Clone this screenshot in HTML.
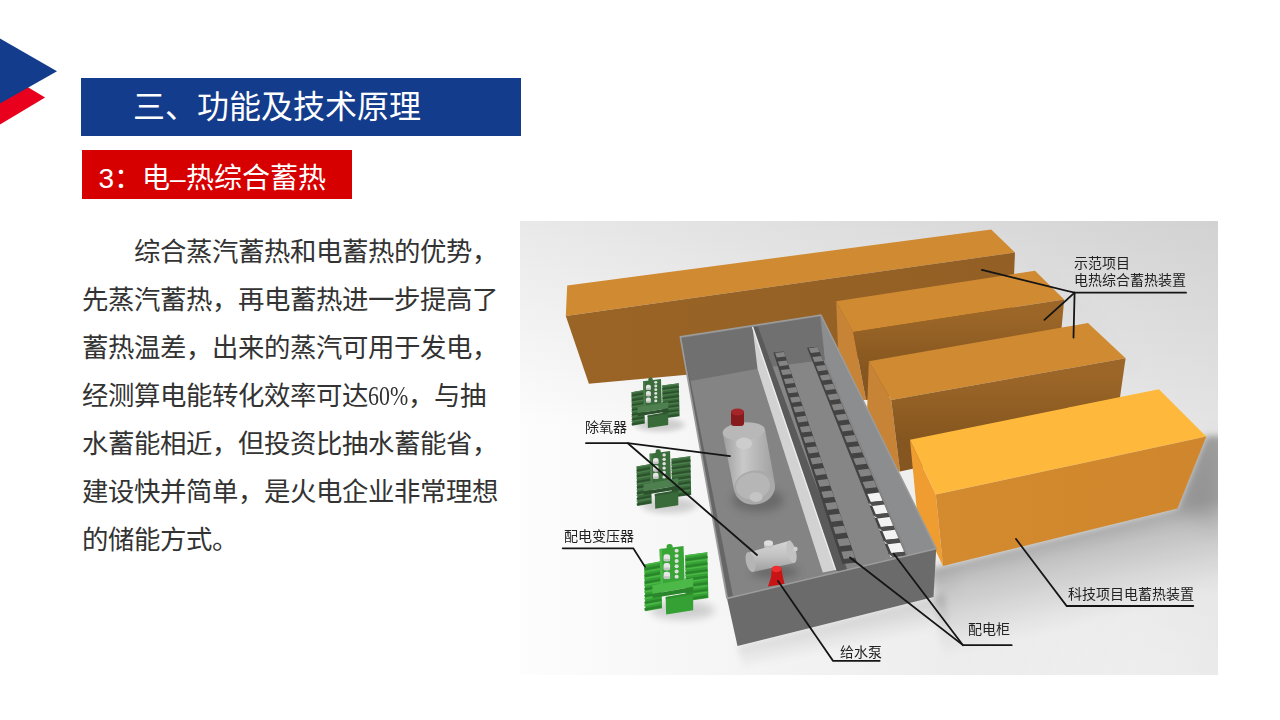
<!DOCTYPE html>
<html lang="zh-CN"><head><meta charset="utf-8">
<style>
html,body{margin:0;padding:0;}
body{width:1280px;height:720px;background:#fff;position:relative;overflow:hidden;font-family:"Liberation Serif",serif;}
.abs{position:absolute;}
#tri{left:0;top:0;}
#bar1{left:81px;top:78px;width:440px;height:58px;background:#143c8c;}
#bar1 span{position:absolute;left:52px;top:10px;font-size:32px;line-height:38px;color:#fff;white-space:nowrap;}
#bar2{left:82px;top:150px;width:270px;height:49px;background:#d70000;}
#bar2 span{position:absolute;left:16.5px;top:13px;font-size:28px;line-height:32px;color:#fff;white-space:nowrap;font-family:"Liberation Sans",sans-serif;}
#body{left:82px;top:229.2px;width:440px;font-size:26.4px;line-height:47.9px;color:#333;}
#body div{white-space:nowrap;height:47.9px;}
#pic{left:520px;top:221px;}
.lbl{font-family:"Liberation Sans",sans-serif;font-size:14px;fill:#222;}
</style></head><body>
<svg id="tri" class="abs" width="80" height="140" viewBox="0 0 80 140">
  <polygon points="0,70.5 45.1,97.4 0,124.4" fill="#e8001c"/>
  <polygon points="0,38.6 57,71.25 0,103.6" fill="#143c8c"/>
</svg>
<div id="bar1" class="abs"><span>三、功能及技术原理</span></div>
<div id="bar2" class="abs"><span>3：电–热综合蓄热</span></div>
<div id="body" class="abs">
<div>&#12288;&#12288;综合蒸汽蓄热和电蓄热的优势，</div>
<div>先蒸汽蓄热，再电蓄热进一步提高了</div>
<div>蓄热温差，出来的蒸汽可用于发电，</div>
<div>经测算电能转化效率可达<span style="display:inline-block;width:39.6px;white-space:nowrap"><span style="display:inline-block;transform:scaleX(0.83);transform-origin:0 0">60%</span></span>，与抽</div>
<div>水蓄能相近，但投资比抽水蓄能省，</div>
<div>建设快并简单，是火电企业非常理想</div>
<div>的储能方式。</div>
</div>
<svg id="pic" class="abs" width="698" height="454" viewBox="520 221 698 454">
<defs>
  <linearGradient id="bg" gradientUnits="userSpaceOnUse" x1="520" y1="0" x2="1218" y2="0">
    <stop offset="0" stop-color="#fdfdfd"/>
    <stop offset="0.3" stop-color="#f5f5f5"/>
    <stop offset="1" stop-color="#e4e4e4"/>
  </linearGradient>
  <linearGradient id="topdark" gradientUnits="userSpaceOnUse" x1="0" y1="221" x2="0" y2="430">
    <stop offset="0" stop-color="#000" stop-opacity="0.08"/>
    <stop offset="1" stop-color="#000" stop-opacity="0"/>
  </linearGradient>
  <radialGradient id="hl" gradientUnits="userSpaceOnUse" cx="1150" cy="700" r="200">
    <stop offset="0" stop-color="#ffffff" stop-opacity="0.35"/>
    <stop offset="1" stop-color="#ffffff" stop-opacity="0"/>
  </radialGradient>
  <filter id="blur2" x="-20%" y="-20%" width="140%" height="140%"><feGaussianBlur stdDeviation="3"/></filter>
  <filter id="blur4" x="-50%" y="-50%" width="200%" height="200%"><feGaussianBlur stdDeviation="4"/></filter>
  <filter id="blur8" x="-50%" y="-50%" width="200%" height="200%"><feGaussianBlur stdDeviation="10"/></filter>
  <linearGradient id="b4front" gradientUnits="userSpaceOnUse" x1="940" y1="0" x2="1200" y2="0">
    <stop offset="0" stop-color="#d48b2f"/><stop offset="1" stop-color="#cf862c"/>
  </linearGradient>
  <linearGradient id="b1front" gradientUnits="userSpaceOnUse" x1="570" y1="0" x2="1015" y2="0">
    <stop offset="0" stop-color="#9a6426"/><stop offset="1" stop-color="#935f24"/>
  </linearGradient>
  <linearGradient id="b2front" gradientUnits="userSpaceOnUse" x1="0" y1="315" x2="0" y2="370">
    <stop offset="0" stop-color="#9c6628"/><stop offset="1" stop-color="#85561f"/>
  </linearGradient>
  <linearGradient id="b3front" gradientUnits="userSpaceOnUse" x1="0" y1="375" x2="0" y2="440">
    <stop offset="0" stop-color="#9c6628"/><stop offset="1" stop-color="#85561f"/>
  </linearGradient>
  <linearGradient id="rwall" gradientUnits="userSpaceOnUse" x1="0" y1="315" x2="0" y2="550">
    <stop offset="0" stop-color="#8f9090"/><stop offset="1" stop-color="#8a8a8a"/>
  </linearGradient>
  <linearGradient id="tank" gradientUnits="userSpaceOnUse" x1="722" y1="0" x2="775" y2="0">
    <stop offset="0" stop-color="#9c9c9c"/><stop offset="0.4" stop-color="#c9c9c9"/><stop offset="1" stop-color="#a0a0a0"/>
  </linearGradient>
  <linearGradient id="stank" gradientUnits="userSpaceOnUse" x1="0" y1="540" x2="0" y2="572">
    <stop offset="0" stop-color="#d6d6d6"/><stop offset="0.5" stop-color="#c2c2c2"/><stop offset="1" stop-color="#9e9e9e"/>
  </linearGradient>
</defs>
<rect x="520" y="221" width="698" height="454" fill="url(#bg)"/>
<rect x="520" y="221" width="698" height="454" fill="url(#topdark)"/>
<rect x="520" y="221" width="698" height="454" fill="url(#hl)"/>
<linearGradient id="sh4" gradientUnits="userSpaceOnUse" x1="1060" y1="537" x2="1081.9" y2="624.4">
  <stop offset="0" stop-color="#000" stop-opacity="0.28"/><stop offset="0.22" stop-color="#000" stop-opacity="0.17"/><stop offset="0.66" stop-color="#000" stop-opacity="0.07"/><stop offset="1" stop-color="#000" stop-opacity="0"/></linearGradient>
<linearGradient id="shp" gradientUnits="userSpaceOnUse" x1="835" y1="621" x2="841" y2="650">
  <stop offset="0" stop-color="#000" stop-opacity="0.12"/><stop offset="1" stop-color="#000" stop-opacity="0"/></linearGradient>
<g filter="url(#blur2)">
<polygon points="930.0,569.0 1177.0,508.0 1206.0,436.0 1230.0,436.0 1230.0,640.0 950.0,700.0" fill="url(#sh4)"/>
<polygon points="737.5,646.0 933.5,597.0 945.0,594.0 950.0,625.0 745.0,675.0" fill="url(#shp)"/>
</g>
<g filter="url(#blur8)" fill="#000">
<polygon points="1177.0,508.0 1206.0,436.0 1218.0,440.0 1218.0,530.0" opacity="0.10"/>
<polygon points="936.0,549.0 945.0,566.0 955.0,585.0 936.0,597.0" opacity="0.05"/>
<polygon points="1015.0,252.0 1064.0,300.0 1125.0,358.0 1140.0,380.0 1100.0,330.0" opacity="0.08"/>
</g>
<polygon points="567.2,285.6 991.2,229.5 1015.0,252.5 565.8,316.0" fill="#cf8a32"/>
<polygon points="565.8,316.0 1015.0,252.5 1011.0,345.0 588.9,383.7" fill="url(#b1front)"/>
<polygon points="836.2,301.2 853.1,331.9 866.0,400.0 840.0,400.0" fill="#c88436"/>
<polygon points="836.2,301.2 1035.0,270.8 1064.2,299.6 853.1,331.9" fill="#cf8a32"/>
<polygon points="853.1,331.9 1064.2,299.6 1058.0,366.0 866.0,400.0" fill="url(#b2front)"/>
<polygon points="868.8,361.2 891.2,400.0 900.0,471.5 865.0,471.5" fill="#c88436"/>
<polygon points="868.8,361.2 1088.0,323.0 1125.6,358.3 891.2,400.0" fill="#cf8a32"/>
<polygon points="891.2,400.0 1125.6,358.3 1116.0,425.0 900.0,471.5" fill="url(#b3front)"/>
<polygon points="910.0,439.7 935.8,494.6 943.0,566.0 917.0,512.0" fill="#ef9d31"/>
<polygon points="910.0,439.7 1158.9,389.2 1206.3,436.5 935.8,494.6" fill="#feb93c"/>
<polygon points="935.8,494.6 1206.3,436.5 1177.4,508.4 943.0,566.0" fill="url(#b4front)"/>
<polygon points="680.2,336.7 821.0,315.0 936.2,548.8 727.0,598.5" fill="#848484"/>
<polygon points="681.5,338.0 820.0,316.5 825.0,360.0 757.5,368.8 690.5,381.0" fill="#707070"/>
<polygon points="681.5,338.0 690.5,381.0 733.0,596.0 728.0,597.0" fill="#666666"/>
<polygon points="757.5,368.8 825.0,360.0 908.0,555.0 822.8,572.5" fill="#868686"/>
<polygon points="752.5,326.7 758.0,327.0 850.0,577.0 835.6,570.0" fill="#5a5a5a"/>
<polygon points="752.5,326.7 835.6,570.0 822.8,572.5 757.5,368.8" fill="#d2d2d2"/>
<polyline points="752.5,326.7 835.6,570.0" fill="none" stroke="#ececec" stroke-width="1.4"/>
<polygon points="821.0,315.0 936.2,548.8 908.0,555.0 825.0,360.0" fill="#8c8d8f"/>
<ellipse cx="758" cy="500" rx="26" ry="12" fill="#3a3a3a" opacity="0.35" filter="url(#blur4)"/>
<polygon points="773.3,352.5 783.8,351.5 857.0,562.5 842.5,564.0" fill="#434343"/><polygon points="775.1,353.0 783.8,351.9 785.5,356.5 776.8,357.6" fill="#848484"/><polygon points="777.9,361.5 786.7,360.4 788.4,365.1 779.6,366.2" fill="#848484"/><polygon points="780.8,370.1 789.7,369.1 791.5,373.9 782.6,375.0" fill="#848484"/><polygon points="783.8,379.0 792.8,377.9 794.6,382.9 785.6,384.0" fill="#848484"/><polygon points="786.8,388.2 796.0,387.1 797.8,392.2 788.7,393.3" fill="#848484"/><polygon points="790.0,397.5 799.2,396.4 801.1,401.6 791.8,402.8" fill="#848484"/><polygon points="793.2,407.1 802.5,405.9 804.4,411.3 795.1,412.5" fill="#848484"/><polygon points="796.4,416.9 805.9,415.7 807.9,421.2 798.4,422.4" fill="#848484"/><polygon points="799.8,426.9 809.4,425.7 811.4,431.4 801.8,432.6" fill="#848484"/><polygon points="803.2,437.2 812.9,435.9 815.0,441.7 805.2,442.9" fill="#848484"/><polygon points="806.7,447.6 816.5,446.4 818.6,452.3 808.8,453.5" fill="#848484"/><polygon points="810.2,458.3 820.2,457.1 822.4,463.1 812.4,464.4" fill="#848484"/><polygon points="813.8,469.2 824.0,467.9 826.2,474.1 816.0,475.4" fill="#848484"/><polygon points="817.5,480.3 827.9,479.1 830.1,485.4 819.8,486.7" fill="#848484"/><polygon points="821.3,491.7 831.8,490.4 834.1,496.8 823.6,498.1" fill="#848484"/><polygon points="825.2,503.3 835.8,501.9 838.1,508.5 827.5,509.9" fill="#848484"/><polygon points="829.1,515.1 839.9,513.7 842.3,520.4 831.4,521.8" fill="#848484"/><polygon points="833.1,527.1 844.1,525.7 846.5,532.6 835.5,533.9" fill="#848484"/><polygon points="837.1,539.3 848.3,537.9 850.7,544.9 839.6,546.3" fill="#848484"/><polygon points="841.3,551.8 852.6,550.4 855.1,557.5 843.8,558.9" fill="#848484"/>
<polygon points="807.0,347.7 817.5,346.7 906.0,555.5 890.0,557.0" fill="#434343"/><polygon points="808.8,348.2 817.5,347.1 819.6,351.9 810.9,353.0" fill="#848484"/><polygon points="812.4,357.0 821.2,355.9 823.4,360.9 814.5,361.9" fill="#848484"/><polygon points="816.0,366.1 825.1,365.0 827.3,370.1 818.2,371.2" fill="#848484"/><polygon points="819.8,375.4 829.0,374.3 831.3,379.5 822.0,380.6" fill="#848484"/><polygon points="823.6,384.9 833.0,383.8 835.4,389.1 825.9,390.3" fill="#848484"/><polygon points="827.5,394.7 837.2,393.5 839.6,399.1 829.9,400.2" fill="#848484"/><polygon points="831.6,404.7 841.4,403.5 843.9,409.2 834.0,410.4" fill="#848484"/><polygon points="835.7,415.0 845.8,413.8 848.3,419.6 838.2,420.8" fill="#848484"/><polygon points="840.0,425.6 850.2,424.3 852.8,430.3 842.5,431.5" fill="#848484"/><polygon points="844.3,436.3 854.8,435.0 857.4,441.2 846.9,442.4" fill="#848484"/><polygon points="848.7,447.3 859.4,446.0 862.1,452.3 851.4,453.6" fill="#848484"/><polygon points="853.2,458.6 864.2,457.3 866.9,463.7 856.0,465.0" fill="#848484"/><polygon points="857.9,470.1 869.0,468.7 871.8,475.3 860.7,476.7" fill="#848484"/><polygon points="862.6,481.9 874.0,480.5 876.9,487.2 865.4,488.6" fill="#848484"/><polygon points="867.4,493.9 879.1,492.4 882.6,500.7 870.9,502.2" fill="#f3f3f3"/><polygon points="865.1,495.1 868.4,502.2 873.0,505.3 869.9,505.6" fill="#dedede"/><polygon points="867.4,502.2 882.6,500.7 883.9,504.2 872.3,505.6" fill="#4e4e4e"/><polygon points="872.3,506.1 884.3,504.6 887.8,513.1 875.9,514.6" fill="#f3f3f3"/><polygon points="869.9,507.4 873.3,514.6 878.0,517.8 874.9,518.1" fill="#dedede"/><polygon points="872.3,514.6 887.8,513.1 889.2,516.6 877.3,518.1" fill="#4e4e4e"/><polygon points="877.3,518.6 889.5,517.1 893.2,525.7 881.0,527.2" fill="#f3f3f3"/><polygon points="874.9,519.9 878.3,527.2 883.1,530.6 879.9,530.8" fill="#dedede"/><polygon points="877.3,527.2 893.2,525.7 894.6,529.3 882.4,530.8" fill="#4e4e4e"/><polygon points="882.4,531.3 894.9,529.8 898.6,538.6 886.1,540.1" fill="#f3f3f3"/><polygon points="879.9,532.7 883.4,540.1 888.3,543.5 885.1,543.8" fill="#dedede"/><polygon points="882.4,540.1 898.6,538.6 900.1,542.2 887.6,543.8" fill="#4e4e4e"/><polygon points="887.6,544.3 900.4,542.7 904.2,551.7 891.4,553.3" fill="#f3f3f3"/><polygon points="885.1,545.7 888.6,553.3 893.6,556.7 890.3,557.0" fill="#dedede"/><polygon points="887.6,553.3 904.2,551.7 905.7,555.4 892.9,557.0" fill="#4e4e4e"/>
<g>
<polygon points="722.6,433.0 765.0,429.7 775.0,484.0 734.3,491.0" fill="url(#tank)"/>
<ellipse cx="743.8" cy="431.4" rx="21.2" ry="9" fill="#b8b8b8" transform="rotate(-5 743.8 431.4)"/>
<ellipse cx="754.6" cy="487.5" rx="20.5" ry="17" fill="#a9a9a9" transform="rotate(-8 754.6 487.5)"/>
<ellipse cx="753" cy="486" rx="17" ry="13.5" fill="#b6b6b6" transform="rotate(-8 753 486)"/>
<ellipse cx="756" cy="497" rx="6.5" ry="5" fill="#c4c4c4"/>
<ellipse cx="744" cy="443.5" rx="8" ry="6" fill="#cdcdcd"/>
<rect x="731" y="410" width="13" height="16" rx="3" fill="#861a1c"/>
<ellipse cx="737.5" cy="412" rx="6.5" ry="3.5" fill="#a3262a"/>
</g>
<ellipse cx="775" cy="572" rx="24" ry="6" fill="#333" opacity="0.35" filter="url(#blur4)"/>
<polygon points="750.0,552.0 790.5,540.5 794.0,563.0 753.0,572.0" fill="url(#stank)"/>
<ellipse cx="750.5" cy="562" rx="4.5" ry="10.3" fill="#b5b5b5" transform="rotate(-14 750.5 562)"/>
<ellipse cx="791.5" cy="551.8" rx="4.5" ry="11.5" fill="#c2c2c2" transform="rotate(-14 791.5 551.8)"/>
<rect x="764" y="542" width="9" height="6" rx="2" fill="#c4c4c4"/>
<ellipse cx="768.5" cy="543" rx="4.5" ry="2.8" fill="#dedede"/>
<circle cx="795.5" cy="549" r="2.2" fill="#d0d0d0"/>
<polygon points="768,586.5 784.5,584 783,577 781,567 772,567.5 771,577.5" fill="#c81414"/>
<ellipse cx="776.5" cy="569" rx="5" ry="3.2" fill="#ee2e2e"/>
<polygon points="727.0,598.5 936.2,548.8 933.5,597.0 737.5,646.0" fill="#6b6b6b"/>
<polyline points="727.0,598.5 680.2,336.7 821.0,315.0 936.2,548.8 727.0,598.5" fill="none" stroke="#9c9c9c" stroke-width="1.5" stroke-linejoin="round"/>
<g transform="translate(631,384.1) scale(0.81,0.73)"><ellipse cx="36" cy="56" rx="30" ry="9" fill="#000" opacity="0.16" filter="url(#blur4)"/><polygon points="0.6,11 16.1,8 17.1,54 1.6,57" fill="#396a3a"/><polygon points="0.6,14.6 16.1,11.6 16.6,13.9 1.1,16.9" fill="#2c522d"/><polygon points="0.6,11.0 16.1,8.0 16.1,9.4 0.6,12.4" fill="#4e7f4f"/><polygon points="0.6,21.2 16.1,18.2 16.6,20.5 1.1,23.5" fill="#2c522d"/><polygon points="0.6,17.6 16.1,14.6 16.1,16.0 0.6,19.0" fill="#4e7f4f"/><polygon points="0.6,27.8 16.1,24.8 16.6,27.1 1.1,30.1" fill="#2c522d"/><polygon points="0.6,24.1 16.1,21.1 16.1,22.6 0.6,25.6" fill="#4e7f4f"/><polygon points="0.6,34.3 16.1,31.3 16.6,33.6 1.1,36.6" fill="#2c522d"/><polygon points="0.6,30.7 16.1,27.7 16.1,29.2 0.6,32.2" fill="#4e7f4f"/><polygon points="0.6,40.9 16.1,37.9 16.6,40.2 1.1,43.2" fill="#2c522d"/><polygon points="0.6,37.3 16.1,34.3 16.1,35.7 0.6,38.7" fill="#4e7f4f"/><polygon points="0.6,47.5 16.1,44.5 16.6,46.8 1.1,49.8" fill="#2c522d"/><polygon points="0.6,43.9 16.1,40.9 16.1,42.3 0.6,45.3" fill="#4e7f4f"/><polygon points="0.6,54.0 16.1,51.0 16.6,53.3 1.1,56.3" fill="#2c522d"/><polygon points="0.6,50.4 16.1,47.4 16.1,48.9 0.6,51.9" fill="#4e7f4f"/><polygon points="38.5,2 59.0,-1 60.0,44 39.5,47" fill="#396a3a"/><polygon points="38.5,5.5 59.0,2.5 59.5,4.8 39.0,7.8" fill="#2c522d"/><polygon points="38.5,2.0 59.0,-1.0 59.0,0.4 38.5,3.4" fill="#4e7f4f"/><polygon points="38.5,12.0 59.0,9.0 59.5,11.2 39.0,14.2" fill="#2c522d"/><polygon points="38.5,8.4 59.0,5.4 59.0,6.8 38.5,9.8" fill="#4e7f4f"/><polygon points="38.5,18.4 59.0,15.4 59.5,17.6 39.0,20.6" fill="#2c522d"/><polygon points="38.5,14.9 59.0,11.9 59.0,13.3 38.5,16.3" fill="#4e7f4f"/><polygon points="38.5,24.8 59.0,21.8 59.5,24.1 39.0,27.1" fill="#2c522d"/><polygon points="38.5,21.3 59.0,18.3 59.0,19.7 38.5,22.7" fill="#4e7f4f"/><polygon points="38.5,31.2 59.0,28.2 59.5,30.5 39.0,33.5" fill="#2c522d"/><polygon points="38.5,27.7 59.0,24.7 59.0,26.1 38.5,29.1" fill="#4e7f4f"/><polygon points="38.5,37.7 59.0,34.7 59.5,36.9 39.0,39.9" fill="#2c522d"/><polygon points="38.5,34.1 59.0,31.1 59.0,32.6 38.5,35.6" fill="#4e7f4f"/><polygon points="38.5,44.1 59.0,41.1 59.5,43.4 39.0,46.4" fill="#2c522d"/><polygon points="38.5,40.6 59.0,37.6 59.0,39.0 38.5,42.0" fill="#4e7f4f"/><polygon points="14.8,-4 37,-7 38,28 15.8,31" fill="#3b6d3c"/><polygon points="14.8,-4 17,-4.3 18,30.7 15.8,31" fill="#4e7f4f"/><rect x="21.3" y="-9" width="5.6" height="6" rx="2.5" fill="#3b6d3c"/><rect x="18.5" y="1.0" width="6" height="7" rx="2.2" fill="#e6e6e6"/><rect x="18.5" y="5.5" width="6" height="2.5" rx="1" fill="#c4c4c4"/><rect x="18.5" y="9.6" width="6" height="7" rx="2.2" fill="#e6e6e6"/><rect x="18.5" y="14.1" width="6" height="2.5" rx="1" fill="#c4c4c4"/><rect x="18.5" y="18.2" width="6" height="7" rx="2.2" fill="#e6e6e6"/><rect x="18.5" y="22.7" width="6" height="2.5" rx="1" fill="#c4c4c4"/><circle cx="30.6" cy="-2.5" r="1.9" fill="#e0e0e0"/><circle cx="30.6" cy="2.6" r="1.9" fill="#e0e0e0"/><circle cx="30.6" cy="7.7" r="1.9" fill="#e0e0e0"/><circle cx="30.6" cy="12.8" r="1.9" fill="#e0e0e0"/><circle cx="30.6" cy="17.9" r="1.9" fill="#e0e0e0"/><circle cx="30.6" cy="23.0" r="1.9" fill="#e0e0e0"/><polygon points="8.1,31.5 45.9,24.4 46,33 8.3,40" fill="#4e7f4f"/><polygon points="8.3,40 46,33 46,37.5 8.4,44" fill="#2c522d"/><polygon points="20.4,43 45.9,38.3 45.9,56 20.9,60" fill="#396a3a"/><polygon points="20.4,43 45.9,38.3 45.9,40.5 20.4,45.2" fill="#2c522d" opacity="0.6"/></g>
<g transform="translate(636,457.1) scale(0.92,0.86)"><ellipse cx="36" cy="56" rx="30" ry="9" fill="#000" opacity="0.16" filter="url(#blur4)"/><polygon points="0.6,11 16.1,8 17.1,54 1.6,57" fill="#396a3a"/><polygon points="0.6,14.6 16.1,11.6 16.6,13.9 1.1,16.9" fill="#2c522d"/><polygon points="0.6,11.0 16.1,8.0 16.1,9.4 0.6,12.4" fill="#4e7f4f"/><polygon points="0.6,21.2 16.1,18.2 16.6,20.5 1.1,23.5" fill="#2c522d"/><polygon points="0.6,17.6 16.1,14.6 16.1,16.0 0.6,19.0" fill="#4e7f4f"/><polygon points="0.6,27.8 16.1,24.8 16.6,27.1 1.1,30.1" fill="#2c522d"/><polygon points="0.6,24.1 16.1,21.1 16.1,22.6 0.6,25.6" fill="#4e7f4f"/><polygon points="0.6,34.3 16.1,31.3 16.6,33.6 1.1,36.6" fill="#2c522d"/><polygon points="0.6,30.7 16.1,27.7 16.1,29.2 0.6,32.2" fill="#4e7f4f"/><polygon points="0.6,40.9 16.1,37.9 16.6,40.2 1.1,43.2" fill="#2c522d"/><polygon points="0.6,37.3 16.1,34.3 16.1,35.7 0.6,38.7" fill="#4e7f4f"/><polygon points="0.6,47.5 16.1,44.5 16.6,46.8 1.1,49.8" fill="#2c522d"/><polygon points="0.6,43.9 16.1,40.9 16.1,42.3 0.6,45.3" fill="#4e7f4f"/><polygon points="0.6,54.0 16.1,51.0 16.6,53.3 1.1,56.3" fill="#2c522d"/><polygon points="0.6,50.4 16.1,47.4 16.1,48.9 0.6,51.9" fill="#4e7f4f"/><polygon points="38.5,2 59.0,-1 60.0,44 39.5,47" fill="#396a3a"/><polygon points="38.5,5.5 59.0,2.5 59.5,4.8 39.0,7.8" fill="#2c522d"/><polygon points="38.5,2.0 59.0,-1.0 59.0,0.4 38.5,3.4" fill="#4e7f4f"/><polygon points="38.5,12.0 59.0,9.0 59.5,11.2 39.0,14.2" fill="#2c522d"/><polygon points="38.5,8.4 59.0,5.4 59.0,6.8 38.5,9.8" fill="#4e7f4f"/><polygon points="38.5,18.4 59.0,15.4 59.5,17.6 39.0,20.6" fill="#2c522d"/><polygon points="38.5,14.9 59.0,11.9 59.0,13.3 38.5,16.3" fill="#4e7f4f"/><polygon points="38.5,24.8 59.0,21.8 59.5,24.1 39.0,27.1" fill="#2c522d"/><polygon points="38.5,21.3 59.0,18.3 59.0,19.7 38.5,22.7" fill="#4e7f4f"/><polygon points="38.5,31.2 59.0,28.2 59.5,30.5 39.0,33.5" fill="#2c522d"/><polygon points="38.5,27.7 59.0,24.7 59.0,26.1 38.5,29.1" fill="#4e7f4f"/><polygon points="38.5,37.7 59.0,34.7 59.5,36.9 39.0,39.9" fill="#2c522d"/><polygon points="38.5,34.1 59.0,31.1 59.0,32.6 38.5,35.6" fill="#4e7f4f"/><polygon points="38.5,44.1 59.0,41.1 59.5,43.4 39.0,46.4" fill="#2c522d"/><polygon points="38.5,40.6 59.0,37.6 59.0,39.0 38.5,42.0" fill="#4e7f4f"/><polygon points="14.8,-4 37,-7 38,28 15.8,31" fill="#3b6d3c"/><polygon points="14.8,-4 17,-4.3 18,30.7 15.8,31" fill="#4e7f4f"/><rect x="21.3" y="-9" width="5.6" height="6" rx="2.5" fill="#3b6d3c"/><rect x="18.5" y="1.0" width="6" height="7" rx="2.2" fill="#e6e6e6"/><rect x="18.5" y="5.5" width="6" height="2.5" rx="1" fill="#c4c4c4"/><rect x="18.5" y="9.6" width="6" height="7" rx="2.2" fill="#e6e6e6"/><rect x="18.5" y="14.1" width="6" height="2.5" rx="1" fill="#c4c4c4"/><rect x="18.5" y="18.2" width="6" height="7" rx="2.2" fill="#e6e6e6"/><rect x="18.5" y="22.7" width="6" height="2.5" rx="1" fill="#c4c4c4"/><circle cx="30.6" cy="-2.5" r="1.9" fill="#e0e0e0"/><circle cx="30.6" cy="2.6" r="1.9" fill="#e0e0e0"/><circle cx="30.6" cy="7.7" r="1.9" fill="#e0e0e0"/><circle cx="30.6" cy="12.8" r="1.9" fill="#e0e0e0"/><circle cx="30.6" cy="17.9" r="1.9" fill="#e0e0e0"/><circle cx="30.6" cy="23.0" r="1.9" fill="#e0e0e0"/><polygon points="8.1,31.5 45.9,24.4 46,33 8.3,40" fill="#4e7f4f"/><polygon points="8.3,40 46,33 46,37.5 8.4,44" fill="#2c522d"/><polygon points="20.4,43 45.9,38.3 45.9,56 20.9,60" fill="#396a3a"/><polygon points="20.4,43 45.9,38.3 45.9,40.5 20.4,45.2" fill="#2c522d" opacity="0.6"/></g>
<g transform="translate(643.6,553.2) scale(1.08,1.02)"><ellipse cx="36" cy="56" rx="30" ry="9" fill="#000" opacity="0.16" filter="url(#blur4)"/><polygon points="0.6,11 16.1,8 17.1,54 1.6,57" fill="#35a033"/><polygon points="0.6,14.6 16.1,11.6 16.6,13.9 1.1,16.9" fill="#2a862a"/><polygon points="0.6,11.0 16.1,8.0 16.1,9.4 0.6,12.4" fill="#4cb848"/><polygon points="0.6,21.2 16.1,18.2 16.6,20.5 1.1,23.5" fill="#2a862a"/><polygon points="0.6,17.6 16.1,14.6 16.1,16.0 0.6,19.0" fill="#4cb848"/><polygon points="0.6,27.8 16.1,24.8 16.6,27.1 1.1,30.1" fill="#2a862a"/><polygon points="0.6,24.1 16.1,21.1 16.1,22.6 0.6,25.6" fill="#4cb848"/><polygon points="0.6,34.3 16.1,31.3 16.6,33.6 1.1,36.6" fill="#2a862a"/><polygon points="0.6,30.7 16.1,27.7 16.1,29.2 0.6,32.2" fill="#4cb848"/><polygon points="0.6,40.9 16.1,37.9 16.6,40.2 1.1,43.2" fill="#2a862a"/><polygon points="0.6,37.3 16.1,34.3 16.1,35.7 0.6,38.7" fill="#4cb848"/><polygon points="0.6,47.5 16.1,44.5 16.6,46.8 1.1,49.8" fill="#2a862a"/><polygon points="0.6,43.9 16.1,40.9 16.1,42.3 0.6,45.3" fill="#4cb848"/><polygon points="0.6,54.0 16.1,51.0 16.6,53.3 1.1,56.3" fill="#2a862a"/><polygon points="0.6,50.4 16.1,47.4 16.1,48.9 0.6,51.9" fill="#4cb848"/><polygon points="38.5,2 59.0,-1 60.0,44 39.5,47" fill="#35a033"/><polygon points="38.5,5.5 59.0,2.5 59.5,4.8 39.0,7.8" fill="#2a862a"/><polygon points="38.5,2.0 59.0,-1.0 59.0,0.4 38.5,3.4" fill="#4cb848"/><polygon points="38.5,12.0 59.0,9.0 59.5,11.2 39.0,14.2" fill="#2a862a"/><polygon points="38.5,8.4 59.0,5.4 59.0,6.8 38.5,9.8" fill="#4cb848"/><polygon points="38.5,18.4 59.0,15.4 59.5,17.6 39.0,20.6" fill="#2a862a"/><polygon points="38.5,14.9 59.0,11.9 59.0,13.3 38.5,16.3" fill="#4cb848"/><polygon points="38.5,24.8 59.0,21.8 59.5,24.1 39.0,27.1" fill="#2a862a"/><polygon points="38.5,21.3 59.0,18.3 59.0,19.7 38.5,22.7" fill="#4cb848"/><polygon points="38.5,31.2 59.0,28.2 59.5,30.5 39.0,33.5" fill="#2a862a"/><polygon points="38.5,27.7 59.0,24.7 59.0,26.1 38.5,29.1" fill="#4cb848"/><polygon points="38.5,37.7 59.0,34.7 59.5,36.9 39.0,39.9" fill="#2a862a"/><polygon points="38.5,34.1 59.0,31.1 59.0,32.6 38.5,35.6" fill="#4cb848"/><polygon points="38.5,44.1 59.0,41.1 59.5,43.4 39.0,46.4" fill="#2a862a"/><polygon points="38.5,40.6 59.0,37.6 59.0,39.0 38.5,42.0" fill="#4cb848"/><polygon points="14.8,-4 37,-7 38,28 15.8,31" fill="#38a536"/><polygon points="14.8,-4 17,-4.3 18,30.7 15.8,31" fill="#4cb848"/><rect x="21.3" y="-9" width="5.6" height="6" rx="2.5" fill="#38a536"/><rect x="18.5" y="1.0" width="6" height="7" rx="2.2" fill="#e6e6e6"/><rect x="18.5" y="5.5" width="6" height="2.5" rx="1" fill="#c4c4c4"/><rect x="18.5" y="9.6" width="6" height="7" rx="2.2" fill="#e6e6e6"/><rect x="18.5" y="14.1" width="6" height="2.5" rx="1" fill="#c4c4c4"/><rect x="18.5" y="18.2" width="6" height="7" rx="2.2" fill="#e6e6e6"/><rect x="18.5" y="22.7" width="6" height="2.5" rx="1" fill="#c4c4c4"/><circle cx="30.6" cy="-2.5" r="1.9" fill="#e0e0e0"/><circle cx="30.6" cy="2.6" r="1.9" fill="#e0e0e0"/><circle cx="30.6" cy="7.7" r="1.9" fill="#e0e0e0"/><circle cx="30.6" cy="12.8" r="1.9" fill="#e0e0e0"/><circle cx="30.6" cy="17.9" r="1.9" fill="#e0e0e0"/><circle cx="30.6" cy="23.0" r="1.9" fill="#e0e0e0"/><polygon points="8.1,31.5 45.9,24.4 46,33 8.3,40" fill="#4cb848"/><polygon points="8.3,40 46,33 46,37.5 8.4,44" fill="#2a862a"/><polygon points="20.4,43 45.9,38.3 45.9,56 20.9,60" fill="#35a033"/><polygon points="20.4,43 45.9,38.3 45.9,40.5 20.4,45.2" fill="#2a862a" opacity="0.6"/></g>
<g stroke="#151515" stroke-width="1.8" fill="none" stroke-linecap="round">
  <polyline points="981.9,269.8 1074.6,292.7 1186,292.7"/>
  <line x1="1044.4" y1="319.8" x2="1074.6" y2="292.7"/>
  <line x1="1073.5" y1="337.5" x2="1074.6" y2="292.7"/>
  <polyline points="586,443.2 627.8,443.2 730,456.2"/>
  <line x1="627.8" y1="443.2" x2="757" y2="555"/>
  <polyline points="562.7,548.3 633.3,548.3 645,566.7"/>
  <polyline points="778,581 833,660.8 879.7,660.8"/>
  <polyline points="850,557.5 963,645.2 1011.7,645.2"/>
  <line x1="893.75" y1="553.75" x2="963" y2="645.2"/>
  <polyline points="1016,539 1066.7,606 1193.3,606"/>
</g>
<text class="lbl" x="1074" y="268">示范项目</text>
<text class="lbl" x="1074" y="285">电热综合蓄热装置</text>
<text class="lbl" x="585" y="432">除氧器</text>
<text class="lbl" x="564" y="541">配电变压器</text>
<text class="lbl" x="840" y="657">给水泵</text>
<text class="lbl" x="967.5" y="634">配电柜</text>
<text class="lbl" x="1068" y="599">科技项目电蓄热装置</text>
</svg>
</body></html>
